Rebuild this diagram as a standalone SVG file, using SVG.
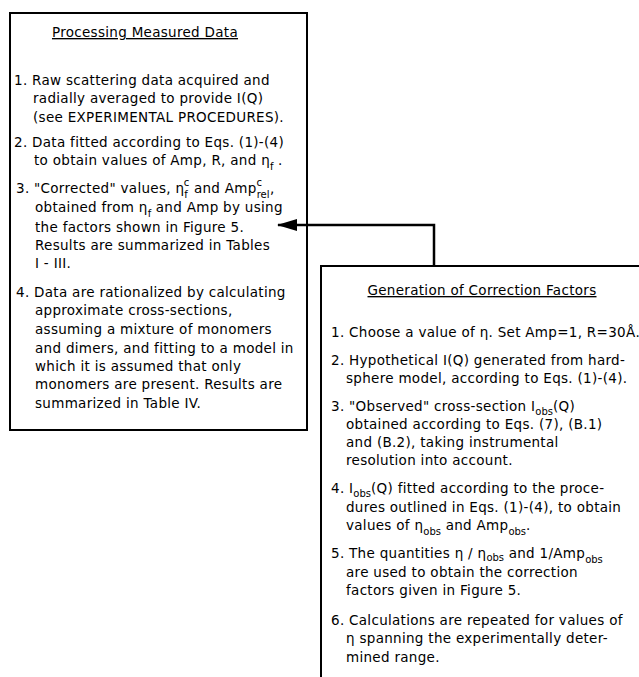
<svg xmlns="http://www.w3.org/2000/svg" width="639" height="677" viewBox="0 0 639 677">
<style>
text{font-family:"DejaVu Sans","Liberation Sans",sans-serif;font-size:13.5px;letter-spacing:0.3px;fill:#000}
.t{text-decoration:underline}
.s{font-size:10px;letter-spacing:0}
.box{fill:#fff;stroke:#000;stroke-width:2}
.con{fill:none;stroke:#000;stroke-width:2.5}
</style>
<defs>
<marker id="ah" markerWidth="20" markerHeight="12" refX="19" refY="6" orient="auto" markerUnits="userSpaceOnUse">
<path d="M0,0 L20,6 L0,12 Z" fill="#000"/>
</marker>
</defs>
<rect width="639" height="677" fill="#fff"/>
<g id="processing">
<rect class="box" x="10" y="13" width="297" height="417"/>
<text class="t" x="145" y="37" text-anchor="middle">Processing Measured Data</text>
<text x="14" y="85">1. Raw scattering data acquired and</text>
<text x="33" y="103">radially averaged to provide I(Q)</text>
<text x="33" y="122">(see EXPERIMENTAL PROCEDURES).</text>
<text x="14" y="147">2. Data fitted according to Eqs. (1)-(4)</text>
<text x="34" y="165">to obtain values of Amp, R, and η<tspan class="s" dy="5">f</tspan><tspan dy="-5"> .</tspan></text>
<text x="16" y="193">3. "Corrected" values, η<tspan class="s" dy="5">f</tspan><tspan class="s" dx="-4" dy="-12">c</tspan><tspan dy="7"> and Amp</tspan><tspan class="s" dy="5">rel</tspan><tspan class="s" dx="-13" dy="-12">c</tspan><tspan dx="8" dy="7">,</tspan></text>
<text x="35" y="212">obtained from η<tspan class="s" dy="5">f</tspan><tspan dy="-5"> and Amp by using</tspan></text>
<text x="35" y="232">the factors shown in Figure 5.</text>
<text x="35" y="250">Results are summarized in Tables</text>
<text x="35" y="268">I - III.</text>
<text x="16" y="297">4. Data are rationalized by calculating</text>
<text x="35" y="315">approximate cross-sections,</text>
<text x="35" y="334">assuming a mixture of monomers</text>
<text x="35" y="353">and dimers, and fitting to a model in</text>
<text x="35" y="371">which it is assumed that only</text>
<text x="35" y="389">monomers are present.  Results are</text>
<text x="35" y="408">summarized in Table IV.</text>
</g>
<g id="generation">
<rect class="box" x="321" y="266" width="330" height="430"/>
<text class="t" x="482" y="295" text-anchor="middle">Generation of Correction Factors</text>
<text x="331" y="337">1. Choose a value of η. Set Amp=1, R=30Å.</text>
<text x="331" y="365">2. Hypothetical I(Q) generated from hard-</text>
<text x="346" y="383">sphere model, according to Eqs. (1)-(4).</text>
<text x="331" y="411">3.  "Observed" cross-section  I<tspan class="s" dy="4">obs</tspan><tspan dy="-4">(Q)</tspan></text>
<text x="346" y="429">obtained according to Eqs. (7), (B.1)</text>
<text x="346" y="447">and (B.2), taking instrumental</text>
<text x="346" y="465">resolution into account.</text>
<text x="331" y="493">4. I<tspan class="s" dy="4">obs</tspan><tspan dy="-4">(Q) fitted according to the proce-</tspan></text>
<text x="346" y="512">dures outlined in Eqs. (1)-(4), to obtain</text>
<text x="346" y="530">values of η<tspan class="s" dy="5">obs</tspan><tspan dy="-5"> and Amp</tspan><tspan class="s" dy="5">obs</tspan><tspan dy="-5">.</tspan></text>
<text x="331" y="558">5. The quantities η / η<tspan class="s" dy="3">obs</tspan><tspan dy="-3">  and 1/Amp</tspan><tspan class="s" dy="5">obs</tspan></text>
<text x="346" y="577">are used to obtain the correction</text>
<text x="346" y="595">factors given in Figure 5.</text>
<text x="331" y="625">6. Calculations are repeated for values of</text>
<text x="346" y="643">η  spanning the experimentally deter-</text>
<text x="346" y="662">mined range.</text>
</g>
<g id="connectors">
<path class="con" d="M434,266 V225 H278" marker-end="url(#ah)"/>
</g>
</svg>
